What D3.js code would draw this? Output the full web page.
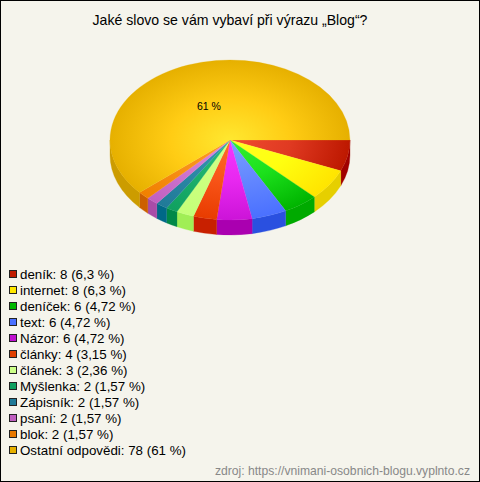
<!DOCTYPE html>
<html><head><meta charset="utf-8">
<style>html,body{margin:0;padding:0;background:#f5f4ec}svg{display:block}text{font-family:"Liberation Sans",Arial,sans-serif}</style>
<script src="https://cdn.jsdelivr.net/npm/d3@7/dist/d3.min.js"></script>
</head><body><svg id="c" width="480" height="482"></svg>
<script>
const categories=["deník","internet","deníček","text","Názor","články","článek","Myšlenka","Zápisník","psaní","blok","Ostatní odpovědi"];
const values=[8,8,6,6,6,4,3,2,2,2,2,78];
const percents=["6,3","6,3","4,72","4,72","4,72","3,15","2,36","1,57","1,57","1,57","1,57","61"];
const legendColors=["#c01c00","#ffe800","#00b800","#4a70ff","#c010d0","#e04000","#ccff88","#10a060","#207a98","#c060c0","#e87800","#e6b000"];
const centerColors=["#f04c30","#ffff22","#33f033","#7aa0ff","#f436ff","#ff6a2a","#d4ff8c","#28c078","#3898b4","#e08ae0","#ff9c22","#ffe830"];
const midColors=["#e03a22","#ffff10","#1ce01c","#6488ff","#e828f0","#f85418","#ccff80","#1cb06c","#2c88a6","#d076d0","#f89018","#ffcc14"];
const edgeColors=["#bd1800","#ffe400","#00b400","#4a70ff","#cc14d8","#e83c00","#c4ff78","#10a060","#207a98","#c060c0","#f08000","#e6b000"];
const sideColors=["#a00000","#e6cf00","#00aa00","#2a50e0","#aa00b0","#c82000","#a0ee55","#008848","#006888","#a84ca8","#cc5f00","#cc9c00"];
const W=480,H=482,cx=230,cy=140,rx=120,ry=80,depth=15;
const svg=d3.select("#c");
svg.append("rect").attr("x",.5).attr("y",.5).attr("width",W-1).attr("height",H-1).attr("fill","#f5f4ec").attr("stroke","#000");
svg.append("text").attr("x",230).attr("y",25).attr("text-anchor","middle").attr("font-size",14.1).attr("fill","#000").text("Jaké slovo se vám vybaví při výrazu „Blog“?");
const pie=d3.pie().sort(null).startAngle(Math.PI/2).endAngle(Math.PI/2+2*Math.PI);
const arcs=pie(values);
const arc=d3.arc().innerRadius(0).outerRadius(rx);
const defs=svg.append("defs");
arcs.forEach((d,i)=>{
 const g=defs.append("radialGradient").attr("id","g"+i).attr("gradientUnits","userSpaceOnUse").attr("cx",0).attr("cy",0).attr("r",rx);
 g.append("stop").attr("offset",0).attr("stop-color",centerColors[i]);
 g.append("stop").attr("offset",.5).attr("stop-color",midColors[i]);
 g.append("stop").attr("offset",1).attr("stop-color",edgeColors[i]);
});
const pt=a=>[cx+rx*Math.sin(a),cy-ry*Math.cos(a)];
const sides=svg.append("g");
arcs.forEach((d,i)=>{
 const a0=Math.max(d.startAngle,Math.PI/2),a1=Math.min(d.endAngle,1.5*Math.PI);
 if(a1<=a0)return;
 const p0=pt(a0),p1=pt(a1);
 sides.append("path").attr("fill",sideColors[i]).attr("stroke",sideColors[i]).attr("stroke-width",.3)
  .attr("d",`M${p0}A${rx},${ry} 0 0 1 ${p1}L${p1[0]},${p1[1]+depth}A${rx},${ry} 0 0 0 ${p0[0]},${p0[1]+depth}Z`);
});
const pieTop=svg.append("g").attr("transform",`translate(${cx},${cy}) scale(1,${ry/rx})`);
pieTop.selectAll("path").data(arcs).join("path").attr("d",arc).attr("fill",(d,i)=>`url(#g${i})`).attr("stroke",(d,i)=>`url(#g${i})`).attr("stroke-width",.3);
const big=arcs[arcs.length-1],c=arc.centroid(big);
svg.append("text").attr("x",cx+c[0]).attr("y",cy+c[1]*ry/rx+7).attr("text-anchor","middle").attr("font-size",10.5).attr("fill","#000").text(percents[11]+" %");
const rowY=d3.scaleLinear().domain([0,11]).range([274,450]);
const leg=svg.append("g").selectAll("g").data(categories).join("g").attr("transform",(d,i)=>`translate(0,${rowY(i)})`);
leg.append("rect").attr("x",9.5).attr("y",-3.5).attr("width",7).attr("height",7).attr("fill",(d,i)=>legendColors[i]).attr("stroke","#222");
leg.append("text").attr("x",20).attr("y",4.5).attr("font-size",13.33).attr("fill","#000").text((d,i)=>`${d}: ${values[i]} (${percents[i]} %)`);
svg.append("text").attr("x",470).attr("y",475).attr("text-anchor","end").attr("font-size",12.15).attr("fill","#888").text("zdroj: https://vnimani-osobnich-blogu.vyplnto.cz");
</script></body></html>
